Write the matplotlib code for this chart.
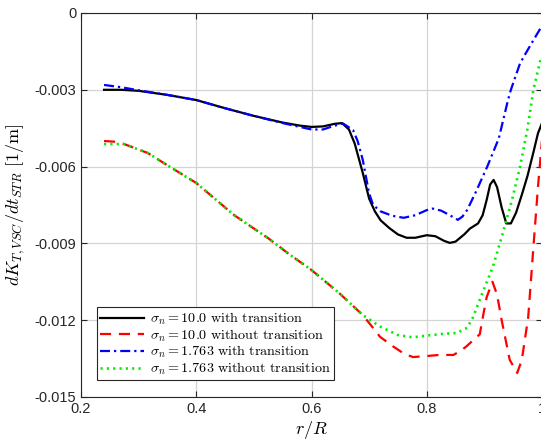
import matplotlib
matplotlib.use("Agg")
import matplotlib.pyplot as plt
from matplotlib.ticker import FixedLocator, FixedFormatter

plt.rcParams['mathtext.fontset'] = 'cm'
plt.rcParams['axes.unicode_minus'] = False
plt.rcParams['font.family'] = ['Liberation Sans', 'DejaVu Sans']

# sigma_n = 10.0 with transition (black solid)
x_black = [0.24, 0.27, 0.30, 0.35, 0.40, 0.45, 0.50, 0.55, 0.58, 0.60, 0.62, 0.64, 0.653,
           0.665, 0.675, 0.689, 0.70, 0.71, 0.72, 0.735, 0.75, 0.765, 0.78, 0.80, 0.815,
           0.83, 0.84, 0.85, 0.865, 0.875, 0.889, 0.897, 0.904, 0.910, 0.916, 0.922, 0.930,
           0.938, 0.946, 0.955, 0.965, 0.975, 0.985, 0.993, 1.000]
y_black = [-0.00300, -0.00300, -0.00304, -0.00320, -0.00340, -0.00372, -0.00402, -0.00428,
           -0.00440, -0.00445, -0.00443, -0.00433, -0.00430, -0.00455, -0.00510, -0.00625,
           -0.00725, -0.00775, -0.00810, -0.00840, -0.00865, -0.00878, -0.00878, -0.00868,
           -0.00872, -0.00890, -0.00898, -0.00893, -0.00865, -0.00842, -0.00822, -0.00790,
           -0.00730, -0.00670, -0.00652, -0.00680, -0.00760, -0.00822, -0.00822, -0.00780,
           -0.00710, -0.00635, -0.00545, -0.00470, -0.00430]

# sigma_n = 10.0 without transition (red dashed)
x_red = [0.24, 0.26, 0.275, 0.316, 0.35, 0.40, 0.466, 0.525, 0.56, 0.60, 0.648, 0.689,
         0.705, 0.719, 0.74, 0.76, 0.776, 0.80, 0.825, 0.846, 0.860, 0.870, 0.882, 0.892,
         0.898, 0.904, 0.914, 0.922, 0.930, 0.944, 0.957, 0.965, 0.976, 0.986, 0.993, 1.000]
y_red = [-0.00500, -0.00503, -0.00512, -0.00547, -0.00595, -0.00664, -0.00790, -0.00880,
         -0.00940, -0.01004, -0.01094, -0.01180, -0.01225, -0.01265, -0.01300, -0.01330,
         -0.01344, -0.01340, -0.01335, -0.01336, -0.01318, -0.01300, -0.01275, -0.01255,
         -0.01180, -0.01110, -0.01050, -0.01100, -0.01200, -0.01355, -0.01406, -0.01355,
         -0.01190, -0.00887, -0.00680, -0.00496]

# sigma_n = 1.763 with transition (blue dash-dot)
x_blue = [0.24, 0.27, 0.30, 0.35, 0.40, 0.45, 0.50, 0.55, 0.58, 0.60, 0.62, 0.64, 0.655,
          0.672, 0.68, 0.689, 0.70, 0.707, 0.72, 0.74, 0.76, 0.78, 0.80, 0.81, 0.825, 0.84,
          0.854, 0.862, 0.870, 0.885, 0.905, 0.925, 0.941, 0.946, 0.962, 0.975, 0.988, 1.000]
y_blue = [-0.00281, -0.00290, -0.00302, -0.00320, -0.00340, -0.00372, -0.00402, -0.00430,
          -0.00445, -0.00455, -0.00455, -0.00440, -0.00432, -0.00457, -0.00500, -0.00574,
          -0.00705, -0.00750, -0.00775, -0.00792, -0.00800, -0.00790, -0.00770, -0.00764,
          -0.00772, -0.00790, -0.00808, -0.00795, -0.00770, -0.00700, -0.00600, -0.00490,
          -0.00340, -0.00300, -0.00196, -0.00145, -0.00095, -0.00050]

# sigma_n = 1.763 without transition (green dotted)
x_green = [0.24, 0.275, 0.316, 0.35, 0.40, 0.466, 0.525, 0.56, 0.60, 0.648, 0.689, 0.72,
           0.75, 0.776, 0.80, 0.83, 0.852, 0.870, 0.880, 0.892, 0.915, 0.932, 0.948, 0.962,
           0.975, 0.985, 0.998]
y_green = [-0.00512, -0.00512, -0.00547, -0.00595, -0.00664, -0.00790, -0.00880, -0.00940,
           -0.01004, -0.01094, -0.01180, -0.01226, -0.01258, -0.01267, -0.01260, -0.01253,
           -0.01250, -0.01230, -0.01190, -0.01120, -0.00990, -0.00860, -0.00730, -0.00600,
           -0.00450, -0.00300, -0.00176]

labels = [r'$\sigma_n = 10.0\ \mathrm{with\ transition}$',
          r'$\sigma_n = 10.0\ \mathrm{without\ transition}$',
          r'$\sigma_n = 1.763\ \mathrm{with\ transition}$',
          r'$\sigma_n = 1.763\ \mathrm{without\ transition}$']

xticks = [0.2, 0.4, 0.6, 0.8, 1.0]
xticklabels = ['0.2', '0.4', '0.6', '0.8', '1']
yticks = [0, -0.003, -0.006, -0.009, -0.012, -0.015]
yticklabels = ['0', '-0.003', '-0.006', '-0.009', '-0.012', '-0.015']

fig = plt.figure(figsize=(5.41, 4.46), dpi=100)
ax = fig.add_axes([81/541, 1-397/446, 461/541, 384/446])

lw = 1.6
ax.plot(x_black, y_black, color='black', lw=lw, ls='-', label=labels[0])
ax.plot(x_red, y_red, color='red', lw=lw, ls=(0, (5, 3.5)), label=labels[1])
ax.plot(x_blue, y_blue, color='blue', lw=lw, ls=(0, (4.5, 1.8, 1, 1.8)), label=labels[2])
ax.plot(x_green, y_green, color='#00ee00', lw=lw + 0.3, ls=(0, (0.8, 1.6)), label=labels[3])

ax.set_xlim(0.2, 1.0)
ax.set_ylim(-0.015, 0)
ax.xaxis.set_major_locator(FixedLocator(xticks))
ax.xaxis.set_major_formatter(FixedFormatter(xticklabels))
ax.yaxis.set_major_locator(FixedLocator(yticks))
ax.yaxis.set_major_formatter(FixedFormatter(yticklabels))
ax.tick_params(direction='in', top=True, right=True, labelsize=10.5, length=4, width=0.8,
               colors='#262626', labelcolor='#262626')
ax.grid(True, color='#d4d4d4', lw=0.9)
ax.set_axisbelow(True)
for s in ax.spines.values():
    s.set_color('#262626')
    s.set_linewidth(0.8)

ax.set_xlabel(r'$r/R$', fontsize=13, labelpad=2)
ax.set_ylabel(r'$dK_{T,VSC}/dt_{STR}\ [1/\mathrm{m}]$', fontsize=13, labelpad=5)

leg = ax.legend(loc='lower left', bbox_to_anchor=(0.035, 0.044), fontsize=10.2,
                frameon=True, fancybox=False, framealpha=1, edgecolor='#262626',
                handlelength=3.1, labelspacing=0.02, borderpad=0.22, handletextpad=0.4,
                borderaxespad=0)
leg.get_frame().set_linewidth(0.8)

fig.savefig('out.png', dpi=100)
